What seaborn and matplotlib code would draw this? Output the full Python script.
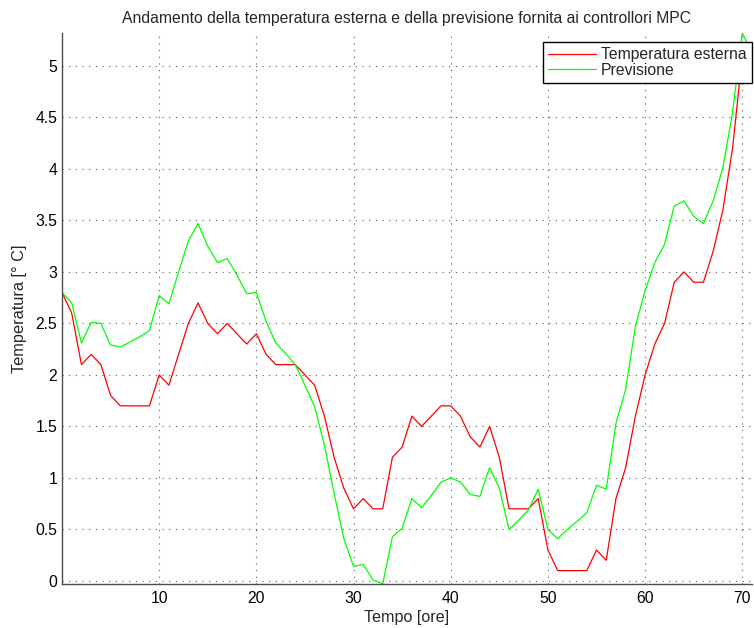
import numpy as np
import pandas as pd
import matplotlib
matplotlib.use("Agg")
import matplotlib.pyplot as plt
import seaborn as sns

tempo = list(range(0, 72))
temperatura_esterna = [2.8, 2.6, 2.1, 2.2, 2.1, 1.8, 1.7, 1.7, 1.7, 1.7,
                       2.0, 1.9, 2.2, 2.5, 2.7, 2.5, 2.4, 2.5, 2.4, 2.3,
                       2.4, 2.2, 2.1, 2.1, 2.1, 2.0, 1.9, 1.6, 1.2, 0.9,
                       0.7, 0.8, 0.7, 0.7, 1.2, 1.3, 1.6, 1.5, 1.6, 1.7,
                       1.7, 1.6, 1.4, 1.3, 1.5, 1.2, 0.7, 0.7, 0.7, 0.8,
                       0.3, 0.1, 0.1, 0.1, 0.1, 0.3, 0.2, 0.8, 1.1, 1.6,
                       2.0, 2.3, 2.5, 2.9, 3.0, 2.9, 2.9, 3.2, 3.6, 4.2,
                       5.1, 5.0]
previsione = [2.8, 2.7, 2.31, 2.51, 2.5, 2.29, 2.27, 2.32, 2.37, 2.43,
              2.77, 2.69, 3.0, 3.3, 3.47, 3.25, 3.09, 3.13, 2.97, 2.79,
              2.8, 2.52, 2.31, 2.21, 2.1, 1.9, 1.69, 1.32, 0.85, 0.41,
              0.14, 0.16, 0.01, -0.03, 0.43, 0.51, 0.8, 0.71, 0.83, 0.96,
              1.0, 0.96, 0.84, 0.82, 1.1, 0.9, 0.5, 0.59, 0.69, 0.89,
              0.5, 0.41, 0.5, 0.58, 0.66, 0.93, 0.89, 1.53, 1.86, 2.47,
              2.82, 3.09, 3.27, 3.64, 3.69, 3.54, 3.47, 3.69, 4.01, 4.55,
              5.32, 5.12]
serie = ["Temperatura esterna", "Previsione"]
colori = {"Temperatura esterna": "#ff0000", "Previsione": "#00ff00"}
x_ticks = [10, 20, 30, 40, 50, 60, 70]
y_ticks = [0, 0.5, 1, 1.5, 2, 2.5, 3, 3.5, 4, 4.5, 5]
y_tick_labels = ["0", "0.5", "1", "1.5", "2", "2.5", "3", "3.5", "4", "4.5", "5"]

df = pd.DataFrame({
    "Tempo": tempo * 2,
    "Valore": temperatura_esterna + previsione,
    "Serie": [serie[0]] * len(tempo) + [serie[1]] * len(tempo),
})

sns.set_style("white")
plt.rcParams['font.family'] = ['Liberation Sans', 'DejaVu Sans']

fig = plt.figure(figsize=(7.54, 6.28), dpi=100)
ax = fig.add_axes([62 / 754, 1 - 584 / 628, 690 / 754, 551 / 628])

sns.lineplot(data=df, x="Tempo", y="Valore", hue="Serie", hue_order=serie,
             palette=colori, linewidth=0.9, ax=ax, legend=False)

for nome in serie:
    ax.plot([], [], color=colori[nome], linewidth=0.9, label=nome)

ax.set_xlim(0, 71)
ax.set_ylim(-0.03, 5.32)
ax.set_xticks(x_ticks)
ax.set_xticklabels([str(v) for v in x_ticks])
ax.set_yticks(y_ticks)
ax.set_yticklabels(y_tick_labels)
ax.tick_params(direction="in", length=5, width=0.8, labelsize=11.3, colors="black")
ax.tick_params(axis="x", pad=5)

ax.grid(True, color="0.35", linestyle=(0, (1, 5)), linewidth=0.8)
for s in ["top", "right"]:
    ax.spines[s].set_visible(False)
for s in ["left", "bottom"]:
    ax.spines[s].set_color("0.3")
    ax.spines[s].set_linewidth(1.0)

ax.set_xlabel("Tempo [ore]", fontsize=11.6, labelpad=3)
ax.set_ylabel("Temperatura [° C]", fontsize=11.8, labelpad=6)
ax.set_title("Andamento della temperatura esterna e della previsione fornita ai controllori MPC",
             fontsize=11.3, pad=7)

leg = ax.legend(loc="upper right", bbox_to_anchor=(1.0, (584 - 42) / 551),
                borderaxespad=0, frameon=True, fancybox=False, fontsize=11.3,
                handlelength=3.0, handletextpad=0.36, borderpad=0.33, labelspacing=0.03)
leg.get_frame().set_edgecolor("black")
leg.get_frame().set_linewidth(1.0)
leg.get_frame().set_alpha(1)

fig.savefig("out.png", dpi=100)
